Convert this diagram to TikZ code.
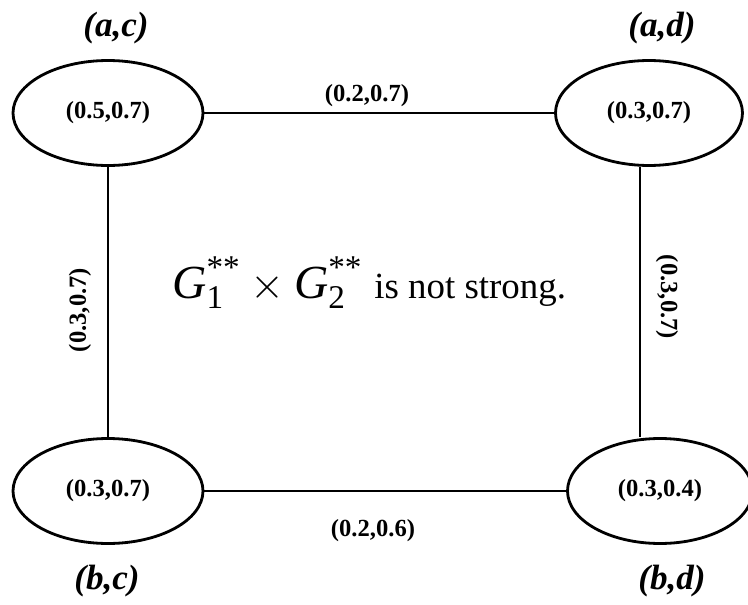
\documentclass[tikz,border=0pt]{standalone}
\usepackage{fontspec}
\usepackage{amsmath}
\setmainfont{Liberation Serif}
\usetikzlibrary{shapes.geometric}

\begin{document}
\begin{tikzpicture}[x=0.02cm, y=-0.02cm,
    vtx/.style={draw, ellipse, line width=1.6pt, inner sep=0pt,
        minimum width=3.8cm, minimum height=2.1cm,
        font=\fontsize{14}{16}\selectfont\bfseries},
    vname/.style={font=\fontsize{20}{22}\selectfont\bfseries\itshape},
    elabel/.style={font=\fontsize{14}{16}\selectfont\bfseries},
    edge/.style={line width=0.6pt}]

\useasboundingbox (0,0) rectangle (748,605);

% Vertices
\node[vtx] (ac) at (108,113) {(0.5,0.7)};
\node[vtx, minimum width=3.74cm] (ad) at (649,113) {(0.3,0.7)};
\node[vtx] (bc) at (108,491) {(0.3,0.7)};
\node[vtx, minimum width=3.7cm] (bd) at (660,491) {(0.3,0.4)};

% Vertex names
\node[vname] (nac) at (116,28)  {(a,c)};
\node[vname] (nad) at (662,28)  {(a,d)};
\node[vname] (nbc) at (107,581) {(b,c)};
\node[vname] (nbd) at (672,581) {(b,d)};

% Edges
\coordinate (rline) at (640,0);
\draw[edge] (ac.east) -- (ad.west);
\draw[edge] (ac.south) -- (bc.north);
\draw[edge] (rline |- ad.south) -- (rline |- bd.north);
\draw[edge] (bc.east) -- (bd.west);

% Edge labels
\node[elabel] (lt) at (367,96) {(0.2,0.7)};
\node[elabel] (lb) at (373,531) {(0.2,0.6)};
\node[elabel, rotate=90] (ll) at (80,310) {(0.3,0.7)};
\node[elabel, rotate=-90] (lr) at (667,297) {(0.3,0.7)};

% Caption
\node[anchor=base west, inner sep=0pt] (cap) at (172,298)
    {\fontsize{27}{30}\selectfont
     $\textit{G}_{\text{1}}^{\text{**}}\times\textit{G}_{\text{2}}^{\text{**}}$%
     \ {\fontsize{21}{24}\selectfont is not strong.}};

\end{tikzpicture}
\end{document}
